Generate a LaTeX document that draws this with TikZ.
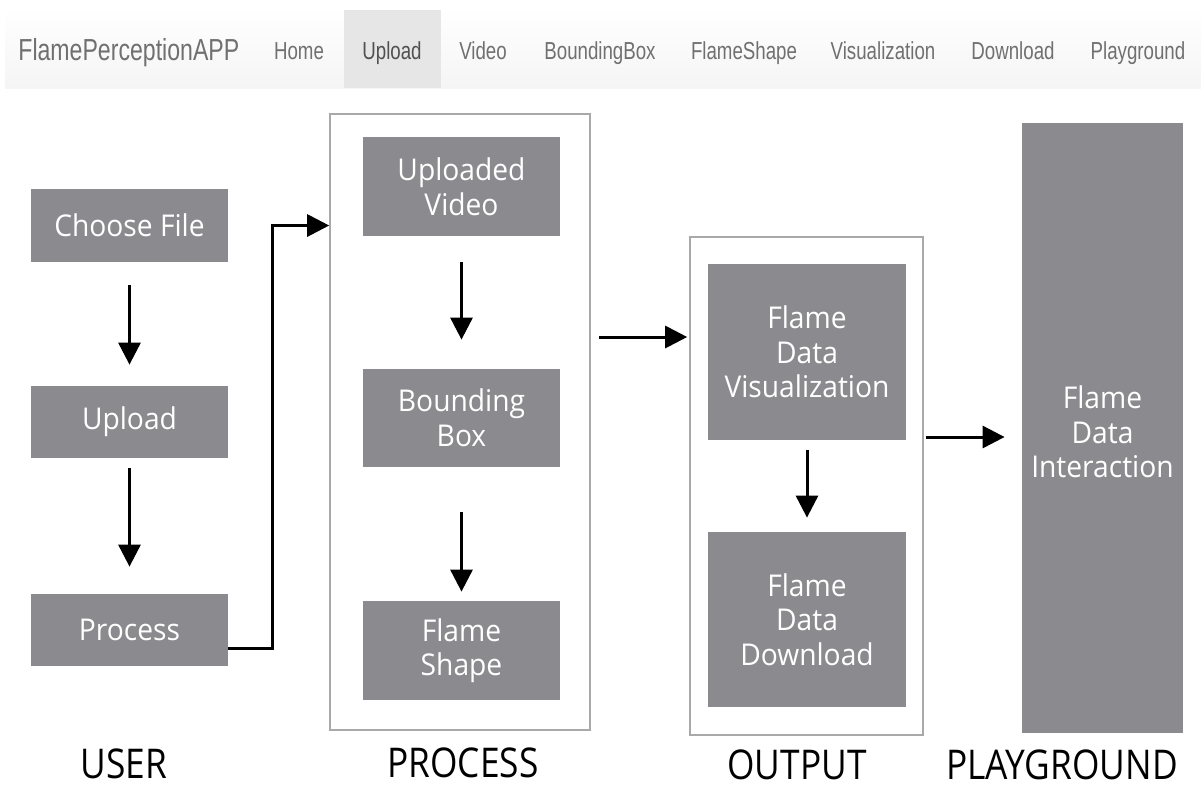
\documentclass[tikz,border=0pt]{standalone}
\usepackage{fontspec}
\usetikzlibrary{arrows.meta,calc}
\newfontfamily\navfont[FakeStretch=0.76]{Liberation Sans}
\newfontfamily\boxfont[FakeStretch=0.94]{Open Sans}
\newfontfamily\lblfont[FakeStretch=0.86]{Open Sans}
\definecolor{boxgray}{HTML}{8B8A8F}
\definecolor{framegray}{HTML}{A9A9A9}
\definecolor{navtext}{HTML}{707070}
\definecolor{navactive}{HTML}{505050}
\definecolor{tabbg}{HTML}{E6E6E6}
\begin{document}
\begin{tikzpicture}[x=0.5pt,y=-0.5pt,
  gbox/.style={fill=boxgray,draw=none,text=white,inner sep=0pt,align=center,
    font=\boxfont\fontsize{15pt}{17.3pt}\selectfont},
  frame/.style={draw=framegray,line width=0.8pt,fill=white,inner sep=0pt},
  arr/.style={line width=1.5pt,-{Triangle[length=11pt,width=11pt]}},
  navitem/.style={text=navtext,font=\navfont\fontsize{12.3pt}{14pt}\selectfont,inner sep=0pt,anchor=base},
  lbl/.style={text=black,font=\lblfont\fontsize{20.5pt}{24pt}\selectfont,inner sep=0pt,text depth=0pt,anchor=base}]
\useasboundingbox (0,0) rectangle (1201,789);

% navigation bar
\shade[top color=white,bottom color=black!4] (5,8) rectangle (1201,88);
\fill[tabbg] (344,10) rectangle (441,88);
\node[navitem,anchor=base west,font=\navfont\fontsize{15.2pt}{16pt}\selectfont] (brand) at (18,60) {FlamePerceptionAPP};
\node[navitem] (nhome) at (299,59) {Home};
\node[navitem,text=navactive] (nupload) at (392,59) {Upload};
\node[navitem] (nvideo) at (483,59) {Video};
\node[navitem] (nbbox) at (600,59) {BoundingBox};
\node[navitem] (nshape) at (744,59) {FlameShape};
\node[navitem] (nvis) at (883,59) {Visualization};
\node[navitem] (ndl) at (1013,59) {Download};
\node[navitem] (nplay) at (1138,59) {Playground};

% group frames
\node[frame,minimum width=130pt,minimum height=308pt] (pframe) at (460,422) {};
\node[frame,minimum width=116.5pt,minimum height=249pt] (oframe) at (806.5,486) {};

% user column
\node[gbox,minimum width=98.5pt,minimum height=36.5pt] (choose) at (129.5,225.5) {Choose File};
\node[gbox,minimum width=98.5pt,minimum height=36pt] (upload) at (129.5,422) {Upload};
\node[gbox,minimum width=98.5pt,minimum height=36pt] (proc) at (129.5,630) {Process};

% process column
\node[gbox,minimum width=98.5pt,minimum height=49.5pt] (uvideo) at (461.5,186.5) {Uploaded\\Video};
\node[gbox,minimum width=98.5pt,minimum height=49pt] (bbox) at (461.5,418) {Bounding\\Box};
\node[gbox,minimum width=98.5pt,minimum height=49.5pt] (fshape) at (461.5,650.5) {Flame\\Shape};

% output column
\node[gbox,minimum width=99pt,minimum height=88pt] (vis) at (807,352) {Flame\\Data\\Visualization};
\node[gbox,minimum width=99pt,minimum height=87.5pt] (dl) at (807,619.5) {Flame\\Data\\Download};

% playground
\node[gbox,minimum width=80.5pt,minimum height=305pt] (play) at (1102.5,428) {};
\node[gbox,fill=none] (playtxt) at (1102.5,432) {Flame\\Data\\Interaction};

% connectors
\draw[arr,shorten <=11.5pt,shorten >=10.5pt] (choose.south) -- (upload.north);
\draw[arr,shorten <=5pt,shorten >=13.5pt] (upload.south) -- (proc.north);
\draw[arr] ([yshift=-9pt]proc.east) -- ++(22pt,0) |- (pframe.west |- choose.center);
\draw[arr,shorten <=13pt,shorten >=14.5pt] (uvideo.south) -- (bbox.north);
\draw[arr,shorten <=22.5pt,shorten >=4.5pt] (bbox.south) -- (fshape.north);
\draw[arr,shorten <=5pt,shorten >=7pt] (vis.south) -- (dl.north);
\coordinate (m1) at (0,337);
\coordinate (m2) at (0,437);
\draw[arr,shorten <=4pt,shorten >=1pt] (pframe.east |- m1) -- (oframe.west |- m1);
\draw[arr,shorten <=1pt,shorten >=8.5pt] (oframe.east |- m2) -- (play.west |- m2);

% column labels
\node[lbl] (luser) at (124,778) {USER};
\node[lbl] (lproc) at (463,777) {PROCESS};
\node[lbl] (lout) at (797,779) {OUTPUT};
\node[lbl] (lplay) at (1062,779) {PLAYGROUND};
\end{tikzpicture}
\end{document}
